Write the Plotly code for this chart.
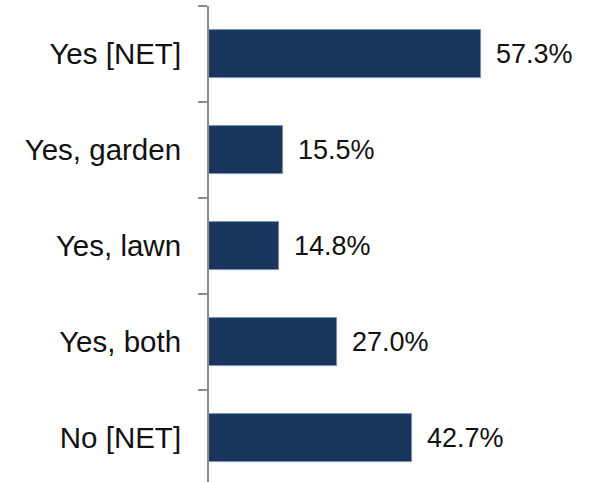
import plotly.graph_objects as go

# Survey answers and their shares (percent)
categories = ["Yes [NET]", "Yes, garden", "Yes, lawn", "Yes, both", "No [NET]"]
values = [57.3, 15.5, 14.8, 27.0, 42.7]
value_labels = [f"{v:.1f}%" for v in values]

positions = list(range(len(categories)))
boundaries = [p - 0.5 for p in positions] + [positions[-1] + 0.5]

FONT = "Liberation Sans, Arial, Helvetica, sans-serif"
BAR_COLOR = "#1b365d"
AXIS_COLOR = "#8c8c8c"

fig = go.Figure(
    go.Bar(
        x=values,
        y=positions,
        orientation="h",
        width=0.5,
        marker=dict(color=BAR_COLOR, line=dict(color="#7890ad", width=0.8)),
        hoverinfo="skip",
    )
)

# value labels to the right of each bar
for pos, val, lab in zip(positions, values, value_labels):
    fig.add_annotation(
        x=val, y=pos, xref="x", yref="y",
        text=lab, showarrow=False,
        xanchor="left", yanchor="middle", xshift=13,
        font=dict(family=FONT, size=27, color="#111111"),
    )

fig.update_layout(
    width=600,
    height=482,
    margin=dict(l=209, r=0, t=6, b=0),
    paper_bgcolor="white",
    plot_bgcolor="white",
    showlegend=False,
    bargap=0,
    xaxis=dict(
        range=[0, 82.4],
        visible=False,
        showgrid=False,
        zeroline=False,
        fixedrange=True,
    ),
    yaxis=dict(
        range=[len(categories) - 0.542, -0.5],
        tickmode="array",
        tickvals=positions,
        ticktext=categories,
        ticks="",
        ticklabelstandoff=20,
        tickfont=dict(family=FONT, size=29.5, color="#111111"),
        showline=True,
        linecolor=AXIS_COLOR,
        linewidth=2,
        showgrid=False,
        zeroline=False,
        minor=dict(
            tickmode="array",
            tickvals=boundaries,
            ticks="outside",
            ticklen=9,
            tickwidth=2,
            tickcolor=AXIS_COLOR,
            showgrid=False,
        ),
        fixedrange=True,
    ),
)

fig.write_html("out.html")
